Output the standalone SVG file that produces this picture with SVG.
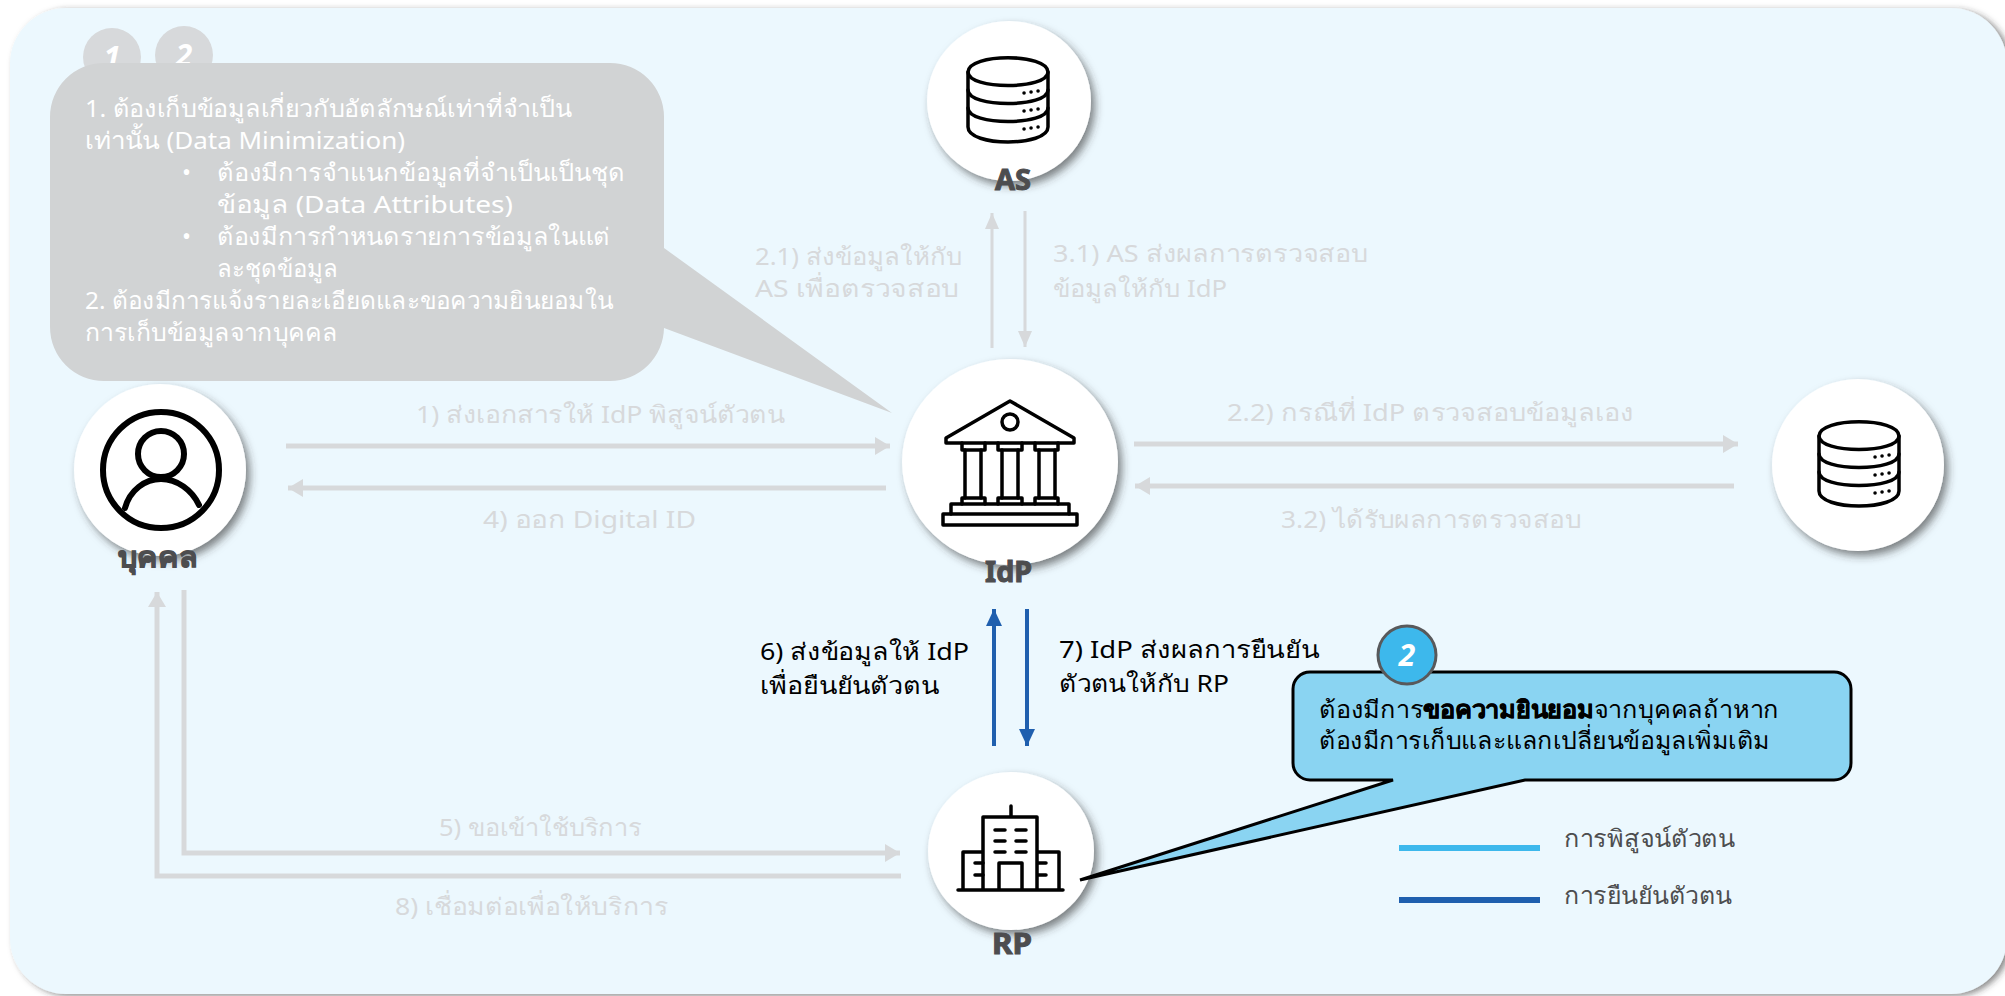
<svg xmlns="http://www.w3.org/2000/svg" width="2005" height="996" viewBox="0 0 2005 996">
<style>
text{font-family:"Noto Sans","DejaVu Sans",sans-serif;font-size:24px}
.w{fill:#ffffff}.g{fill:#d7d9db}.k{fill:#000}.d{fill:#4d4d4f}
.b{font-weight:700;font-size:28px;fill:#4d4d4f;stroke:#4d4d4f;stroke-width:1}
.n{font-weight:700;font-style:italic;font-size:30px;fill:#fff;text-anchor:middle}
.c{fill:#fff;filter:url(#s)}
.ic{fill:none;stroke:#000;stroke-width:3.5;stroke-linejoin:round;stroke-linecap:round}
.gl{fill:none;stroke:#d7d9db;stroke-width:5}
.gt{fill:none;stroke:#d7d9db;stroke-width:3}
.bl{fill:none;stroke:#1f5fae;stroke-width:4}
</style>
<defs>
<filter id="s" x="-20%" y="-20%" width="140%" height="140%"><feDropShadow dx="4" dy="5" stdDeviation="4" flood-color="#333" flood-opacity=".6"/></filter>
<filter id="bgs" x="-2%" y="-2%" width="104%" height="104%"><feDropShadow dx="4" dy="2" stdDeviation="3" flood-color="#333" flood-opacity=".55"/></filter>
<marker id="ag" markerUnits="userSpaceOnUse" markerWidth="16" markerHeight="20" refX="15" refY="10" orient="auto"><path d="M0 1L15 10L0 19z" fill="#d7d9db"/></marker>
<marker id="agt" markerUnits="userSpaceOnUse" markerWidth="16" markerHeight="16" refX="16" refY="7" orient="auto"><path d="M0 0L16 7L0 14z" fill="#d7d9db"/></marker>
<marker id="ab" markerUnits="userSpaceOnUse" markerWidth="17" markerHeight="16" refX="17" refY="8" orient="auto"><path d="M0 0L17 8L0 16z" fill="#1f5fae"/></marker>
<g id="db" class="ic"><path d="M0 15C0 -4 80 -4 80 15V70C80 90 0 90 0 70Z"/><path d="M0 15C0 33 80 33 80 15"/><path d="M0 33C0 51 80 51 80 33"/><path d="M0 51C0 69 80 69 80 51"/><path d="M56 36h.1M63 35h.1M70 34h.1M56 54h.1M63 53h.1M70 52h.1M56 72h.1M63 71h.1M70 70h.1"/></g>
</defs>
<rect id="background" x="10" y="8" width="1997" height="986" rx="56" fill="#ecf8fe" filter="url(#bgs)"/>
<g id="connectors">
<path class="gl" d="M286 446H890" marker-end="url(#ag)"/>
<path class="gl" d="M886 488H288" marker-end="url(#ag)"/>
<path class="gl" d="M1134 444H1738" marker-end="url(#ag)"/>
<path class="gl" d="M1734 486H1135" marker-end="url(#ag)"/>
<path class="gt" d="M992 348V213" marker-end="url(#agt)"/>
<path class="gt" d="M1025 211V347" marker-end="url(#agt)"/>
<path class="gl" d="M184 590V853H900" marker-end="url(#ag)"/>
<path class="gl" d="M901 876H157V592" marker-end="url(#ag)"/>
<path class="bl" d="M994 746V609" marker-end="url(#ab)"/>
<path class="bl" d="M1027 609V746" marker-end="url(#ab)"/>
</g>
<g id="node-as"><ellipse class="c" cx="1009" cy="101" rx="82" ry="80"/><use href="#db" x="968" y="57"/><text class="b" x="995" y="190" textLength="36" lengthAdjust="spacingAndGlyphs">AS</text></g>
<g id="node-idp"><ellipse class="c" cx="1010" cy="462" rx="108" ry="103"/>
<g class="ic"><path d="M1010 401L946 438V443H1074V438Z"/><circle cx="1010" cy="422" r="8"/>
<path d="M962 443V450H985V443M998 443V450H1022V443M1035 443V450H1058V443"/>
<path d="M965 450V498M981 450V498M1002 450V498M1018 450V498M1039 450V498M1055 450V498"/>
<path d="M962 504V498H985V504M998 504V498H1022V504M1035 504V498H1058V504"/>
<path d="M951 514V504H1069V514"/><rect x="943" y="514" width="134" height="11"/></g>
<text class="b" x="985" y="582" textLength="47" lengthAdjust="spacingAndGlyphs">IdP</text></g>
<g id="node-db2"><ellipse class="c" cx="1858" cy="465" rx="86" ry="86"/><use href="#db" x="1819" y="421"/></g>
<g id="node-person"><circle class="c" cx="160" cy="470" r="86"/>
<g class="ic" style="stroke-width:6"><circle cx="161" cy="470" r="58"/><circle cx="161" cy="454" r="23"/><path d="M125 508C130 490 145 479 161 479C177 479 192 490 199 505"/></g>
<text class="b" x="118" y="567" textLength="79" lengthAdjust="spacingAndGlyphs">บุคคล</text></g>
<g id="node-rp"><ellipse class="c" cx="1011" cy="851" rx="83" ry="79"/>
<g class="ic"><path d="M1011 806V817M983 890V817H1037V890M983 852H963V890M1037 852H1059V890M958 890H1063M999 890V863H1022V890"/>
<path d="M995 830h10M1016 830h10M995 841h10M1016 841h10M995 852h10M1016 852h10M975 863h8M975 875h8M1038 863h8M1038 875h8"/></g>
<text class="b" x="992" y="954" textLength="40" lengthAdjust="spacingAndGlyphs">RP</text></g>
<g id="labels">
<text class="g" x="755" y="265" textLength="207" lengthAdjust="spacingAndGlyphs">2.1) ส่งข้อมูลให้กับ</text>
<text class="g" x="755" y="297" textLength="204" lengthAdjust="spacingAndGlyphs">AS เพื่อตรวจสอบ</text>
<text class="g" x="1053" y="262" textLength="315" lengthAdjust="spacingAndGlyphs">3.1) AS ส่งผลการตรวจสอบ</text>
<text class="g" x="1053" y="297" textLength="174" lengthAdjust="spacingAndGlyphs">ข้อมูลให้กับ IdP</text>
<text class="g" x="416" y="423" textLength="369" lengthAdjust="spacingAndGlyphs">1) ส่งเอกสารให้ IdP พิสูจน์ตัวตน</text>
<text class="g" x="1227" y="421" textLength="407" lengthAdjust="spacingAndGlyphs">2.2) กรณีที่ IdP ตรวจสอบข้อมูลเอง</text>
<text class="g" x="1281" y="528" textLength="300" lengthAdjust="spacingAndGlyphs">3.2) ได้รับผลการตรวจสอบ</text>
<text class="g" x="483" y="528" textLength="213" lengthAdjust="spacingAndGlyphs">4) ออก Digital ID</text>
<text class="g" x="439" y="836" textLength="203" lengthAdjust="spacingAndGlyphs">5) ขอเข้าใช้บริการ</text>
<text class="g" x="395" y="915" textLength="273" lengthAdjust="spacingAndGlyphs">8) เชื่อมต่อเพื่อให้บริการ</text>
<text class="k" x="760" y="660" textLength="209" lengthAdjust="spacingAndGlyphs">6) ส่งข้อมูลให้ IdP</text>
<text class="k" x="760" y="694" textLength="179" lengthAdjust="spacingAndGlyphs">เพื่อยืนยันตัวตน</text>
<text class="k" x="1059" y="658" textLength="260" lengthAdjust="spacingAndGlyphs">7) IdP ส่งผลการยืนยัน</text>
<text class="k" x="1059" y="692" textLength="170" lengthAdjust="spacingAndGlyphs">ตัวตนให้กับ RP</text>
</g>
<g id="callout-1">
<circle cx="112" cy="57" r="29" fill="#d7d9db"/><circle cx="184" cy="55" r="29" fill="#d7d9db"/>
<text class="n" x="112" y="68">1</text><text class="n" x="184" y="66">2</text>
<path d="M104 63H610A54 54 0 0 1 664 117V248L892 413L664 328A54 54 0 0 1 610 381H104A54 54 0 0 1 50 327V117A54 54 0 0 1 104 63Z" fill="#d1d3d4"/>
<text class="w" x="85" y="117" textLength="487" lengthAdjust="spacingAndGlyphs">1. ต้องเก็บข้อมูลเกี่ยวกับอัตลักษณ์เท่าที่จำเป็น</text>
<text class="w" x="85" y="149" textLength="320" lengthAdjust="spacingAndGlyphs">เท่านั้น (Data Minimization)</text>
<text class="w" x="182" y="181">•</text>
<text class="w" x="217" y="181" textLength="408" lengthAdjust="spacingAndGlyphs">ต้องมีการจำแนกข้อมูลที่จำเป็นเป็นชุด</text>
<text class="w" x="217" y="213" textLength="296" lengthAdjust="spacingAndGlyphs">ข้อมูล (Data Attributes)</text>
<text class="w" x="182" y="245">•</text>
<text class="w" x="217" y="245" textLength="393" lengthAdjust="spacingAndGlyphs">ต้องมีการกำหนดรายการข้อมูลในแต่</text>
<text class="w" x="217" y="277" textLength="121" lengthAdjust="spacingAndGlyphs">ละชุดข้อมูล</text>
<text class="w" x="85" y="309" textLength="528" lengthAdjust="spacingAndGlyphs">2. ต้องมีการแจ้งรายละเอียดและขอความยินยอมใน</text>
<text class="w" x="85" y="341" textLength="252" lengthAdjust="spacingAndGlyphs">การเก็บข้อมูลจากบุคคล</text>
</g>
<g id="callout-2">
<path d="M1310 672H1834A17 17 0 0 1 1851 689V763A17 17 0 0 1 1834 780H1525L1080 880L1393 780H1310A17 17 0 0 1 1293 763V689A17 17 0 0 1 1310 672Z" fill="#8ad4f2" stroke="#000" stroke-width="3"/>
<circle cx="1407" cy="655" r="29" fill="#3db8ec" stroke="#58595b" stroke-width="3"/>
<text class="n" x="1407" y="666">2</text>
<text class="k" x="1319" y="718" textLength="460" lengthAdjust="spacingAndGlyphs">ต้องมีการ<tspan font-weight="700" stroke="#000" stroke-width=".6">ขอความยินยอม</tspan>จากบุคคลถ้าหาก</text>
<text class="k" x="1319" y="749" textLength="451" lengthAdjust="spacingAndGlyphs">ต้องมีการเก็บและแลกเปลี่ยนข้อมูลเพิ่มเติม</text>
</g>
<g id="legend">
<path d="M1399 848H1540" stroke="#3db8ec" stroke-width="6"/>
<path d="M1399 900H1540" stroke="#1f5fae" stroke-width="6"/>
<text class="d" x="1564" y="847" textLength="171" lengthAdjust="spacingAndGlyphs">การพิสูจน์ตัวตน</text>
<text class="d" x="1564" y="904" textLength="168" lengthAdjust="spacingAndGlyphs">การยืนยันตัวตน</text>
</g>
</svg>
